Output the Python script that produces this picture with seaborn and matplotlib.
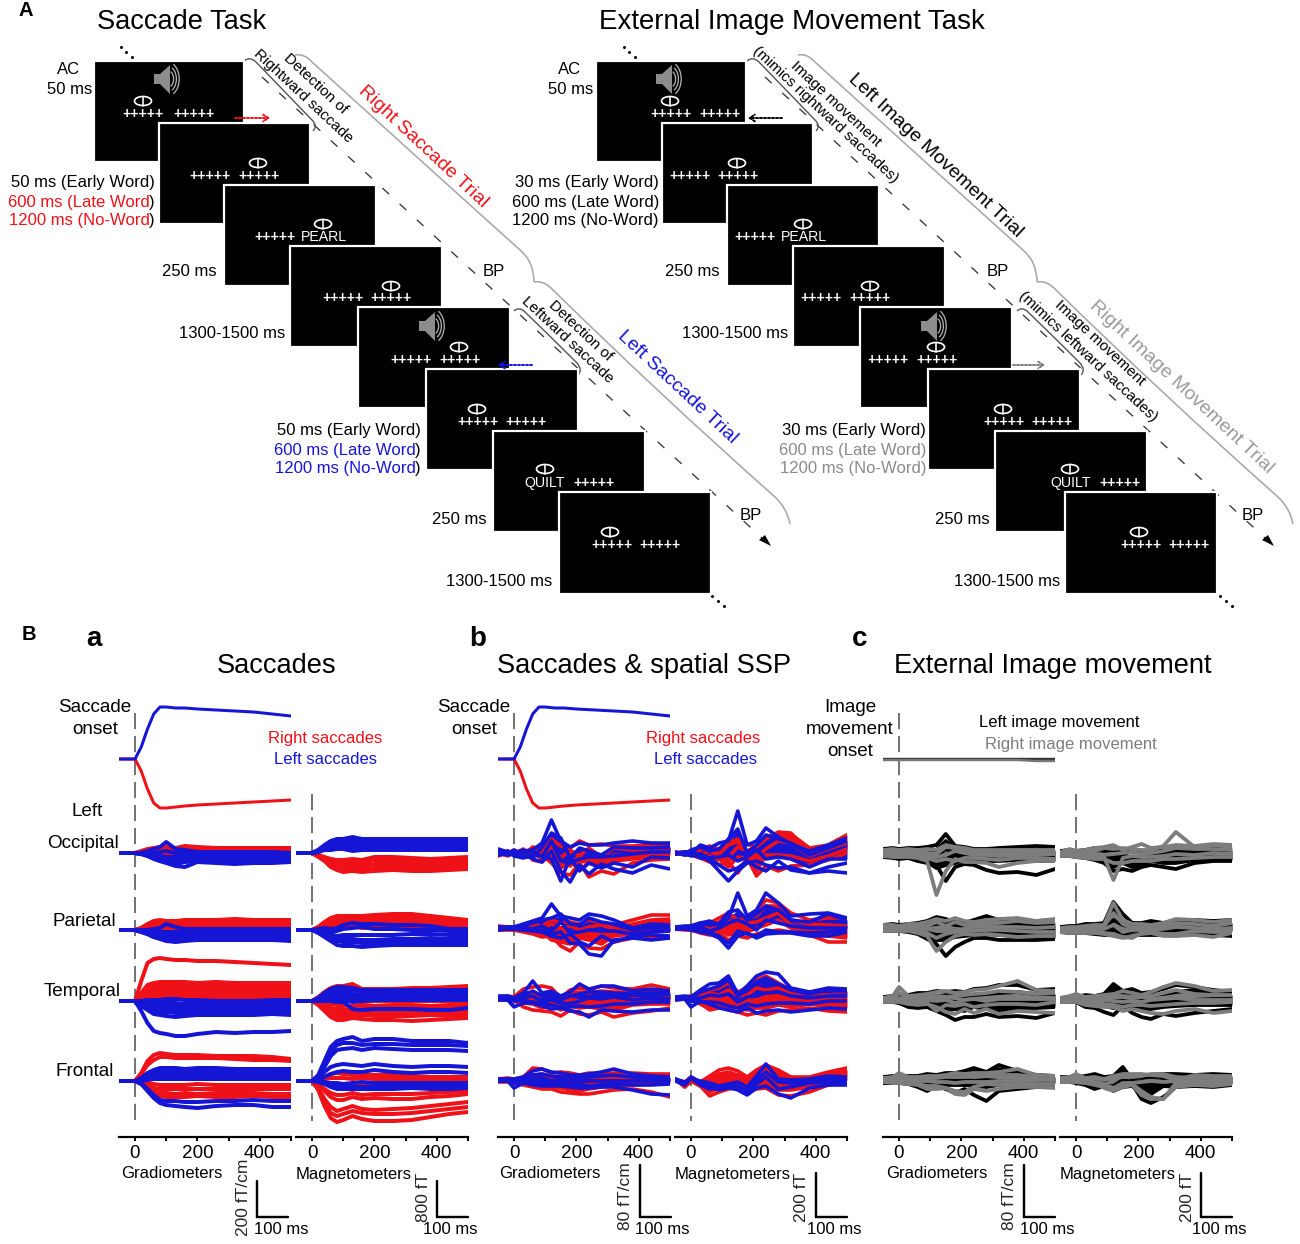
import numpy as np
import pandas as pd
import seaborn as sns
import matplotlib
matplotlib.use("Agg")
import matplotlib.pyplot as plt
from matplotlib.patches import Rectangle, Ellipse, Polygon, Arc
from matplotlib.path import Path
from matplotlib.patches import PathPatch

# ---------- time grids (ms) ----------
T_A = [-50,0,20,40,60,80,100,130,160,200,260,320,380,440,500]
T_B = [-50,-20,0,30,60,90,120,150,180,210,240,280,320,380,440,500]

# ---------- eye traces (amplitude, px-scale units, up positive) ----------
EYE_LEFT  = [0,0,12,30,45,52,52,51,51,50,49,48,47,45,43]
EYE_RIGHT = [0,0,-12,-30,-44,-49,-49,-48,-47,-46,-45,-44,-43,-42,-41]
EYE_IMG_L = [0,0,0,0,0,0,0,0,0,0,0,0,0,0,0]
EYE_IMG_R = [0,0,0,0,0,0,0,0,0,0,0,0,0,-1,-1]

# ---------- a: Saccades ----------
A_GO_R = [[0,0,2,4,5,6,6,5,7,6,5,5,5,5,5],[0,0,1,2,3,4,4,3,4,3,3,3,3,3,3],[0,0,1,1,2,2,1,1,2,1,1,0,1,0,1],[0,0,0,0,0,0,-1,-1,-1,-1,-1,-1,0,-1,-1],[0,0,0,-1,-1,-2,-3,-3,-2,-3,-3,-3,-3,-3,-3]]
A_GO_L = [[0,0,0,2,4,6,11,4,3,1,1,1,1,1,0],[0,0,0,0,0,1,2,0,0,-1,-2,-2,-2,-1,-2],[0,0,-1,-1,-2,-3,-4,-4,-4,-4,-4,-4,-5,-4,-4],[0,0,-1,-2,-3,-5,-7,-8,-6,-6,-6,-6,-7,-7,-7],[0,0,-1,-3,-5,-8,-9,-11,-9,-8,-8,-9,-8,-9,-9],[0,0,-1,-3,-6,-8,-10,-13,-14,-9,-10,-11,-10,-10,-9]]
A_MO_R = [[0,0,-2,-4,-6,-7,-7,-6,-7,-4,-4,-5,-6,-5,-4],[0,0,-2,-5,-8,-10,-10,-9,-10,-7,-7,-8,-9,-8,-7],[0,0,-3,-6,-10,-12,-13,-13,-13,-11,-11,-11,-12,-11,-10],[0,0,-3,-7,-12,-15,-16,-16,-16,-15,-14,-15,-15,-14,-13],[0,0,-4,-8,-14,-17,-19,-18,-19,-18,-17,-18,-18,-17,-16]]
A_MO_L = [[0,0,3,8,12,14,14,16,14,14,14,14,14,14,14],[0,0,3,7,10,12,12,14,12,12,12,12,12,12,12],[0,0,2,6,9,10,10,11,10,10,10,10,10,10,10],[0,0,2,5,7,8,8,7,7,8,8,8,8,8,8],[0,0,1,4,5,6,6,5,5,5,6,6,6,6,5],[0,0,1,3,3,4,4,2,3,3,3,3,3,3,3]]
A_GP_R = [[0,0,2,6,9,10,9,9,10,10,10,11,10,10,10],[0,0,2,5,7,8,8,7,8,8,8,9,8,8,8],[0,0,1,4,5,6,6,5,6,6,6,6,6,6,6],[0,0,1,2,3,4,4,3,4,4,4,4,4,4,4],[0,0,0,1,1,2,2,2,2,2,2,2,2,1,2]]
A_GP_L = [[0,0,0,0,1,2,6,3,1,1,1,1,1,1,1],[0,0,-1,-1,-2,-2,-2,-2,-2,-2,-2,-1,-2,-1,-2],[0,0,-1,-2,-3,-4,-4,-4,-5,-5,-4,-4,-4,-4,-4],[0,0,-1,-3,-5,-6,-7,-7,-7,-6,-7,-6,-6,-6,-7],[0,0,-2,-4,-7,-8,-9,-10,-9,-9,-9,-8,-8,-9,-9],[0,0,-2,-4,-7,-9,-11,-12,-11,-10,-10,-10,-10,-10,-11]]
A_MP_R = [[0,0,3,8,12,14,14,14,14,15,16,16,14,12,10],[0,0,3,7,10,12,12,12,12,13,13,14,12,10,9],[0,0,2,5,8,10,10,10,10,11,11,11,10,8,7],[0,0,2,4,6,8,8,8,8,9,9,9,8,6,5],[0,0,1,3,4,6,6,6,6,6,6,6,5,4,4],[0,0,0,1,2,0,2,4,2,3,2,2,1,1,1]]
A_MP_L = [[0,0,1,2,1,2,5,7,6,6,5,5,4,1,1],[0,0,0,0,-1,-1,1,2,3,1,1,0,0,-1,-1],[0,0,-1,-2,-4,-6,-5,-5,-5,-5,-5,-4,-4,-5,-5],[0,0,-1,-4,-7,-9,-9,-9,-10,-10,-9,-9,-8,-9,-8],[0,0,-2,-5,-9,-11,-12,-12,-13,-13,-12,-12,-12,-12,-12],[0,0,-3,-7,-11,-15,-16,-16,-17,-16,-15,-15,-15,-15,-15]]
A_GT_R = [[0,0,20,38,42,43,42,41,41,40,40,39,38,37,36],[0,0,8,16,18,19,19,19,19,18,19,18,18,18,18],[0,0,7,13,15,16,16,16,16,15,15,15,15,15,15],[0,0,6,10,12,13,13,13,13,12,12,12,12,12,12],[0,0,4,8,9,10,10,10,10,9,9,9,9,9,9],[0,0,3,6,7,7,7,7,7,6,6,6,6,6,6],[0,0,2,3,4,4,4,4,4,3,3,3,3,3,3]]
A_GT_L = [[0,0,0,1,1,1,2,2,1,1,0,0,0,1,1],[0,0,-1,-2,-2,-2,-2,-2,-3,-2,-2,-2,-2,-1,-2],[0,0,-2,-3,-5,-5,-5,-5,-6,-5,-5,-5,-4,-4,-5],[0,0,-3,-5,-7,-8,-8,-9,-9,-8,-8,-8,-7,-7,-8],[0,0,-4,-7,-10,-11,-11,-12,-12,-11,-11,-11,-10,-10,-11],[0,0,-5,-9,-13,-14,-15,-16,-15,-14,-14,-14,-14,-13,-14],[0,0,-10,-22,-30,-32,-33,-35,-35,-33,-31,-32,-31,-31,-30]]
A_MT_R = [[0,0,4,9,13,15,15,17,12,12,12,13,13,14,15],[0,0,1,1,1,1,0,0,-1,0,0,0,0,-1,-1],[0,0,-1,-2,-3,-4,-4,-5,-4,-5,-4,-4,-5,-5,-4],[0,0,-1,-4,-7,-8,-8,-9,-8,-8,-8,-8,-8,-8,-8],[0,0,-2,-5,-10,-12,-12,-12,-11,-12,-11,-12,-11,-11,-11],[0,0,-3,-7,-13,-15,-15,-15,-14,-15,-15,-15,-14,-15,-14],[0,0,-4,-10,-16,-19,-19,-17,-18,-19,-19,-20,-19,-18,-17]]
A_MT_L = [[0,0,3,8,12,14,14,13,11,11,11,11,11,11,11],[0,0,2,6,9,10,10,11,9,9,9,10,9,10,10],[0,0,2,4,6,7,7,7,6,7,7,7,7,7,7],[0,0,1,2,3,4,4,3,3,4,4,4,4,4,4],[0,0,0,1,1,1,1,-1,0,1,1,1,1,1,1],[0,0,0,0,0,-1,-1,-8,-9,-8,-8,-8,-9,-9,-7]]
A_GF_R = [[0,0,8,20,26,28,27,26,26,26,25,25,25,24,22],[0,0,7,16,21,24,24,23,23,23,23,22,21,21,20],[0,0,3,7,9,10,10,9,10,9,9,9,9,9,9],[0,0,1,2,3,4,4,4,3,3,3,3,3,3,3],[0,0,-1,-2,-3,-4,-4,-4,-4,-3,-4,-4,-4,-4,-4],[0,0,-2,-4,-7,-8,-8,-8,-8,-8,-8,-8,-8,-8,-8],[0,0,-3,-6,-10,-12,-12,-13,-12,-13,-12,-12,-12,-13,-13],[0,0,-3,-8,-13,-15,-16,-16,-16,-15,-16,-16,-15,-16,-17]]
A_GF_L = [[0,0,3,8,11,13,13,13,12,13,13,12,12,12,12],[0,0,2,6,8,9,9,9,9,10,9,9,9,9,9],[0,0,1,3,5,5,5,5,6,6,6,5,6,5,5],[0,0,0,1,2,2,2,2,2,2,2,2,2,2,2],[0,0,-2,-8,-14,-19,-20,-20,-21,-21,-20,-20,-19,-20,-20],[0,0,-3,-10,-17,-22,-24,-25,-26,-27,-25,-24,-24,-26,-26]]
A_MF_R = [[0,0,1,4,7,8,7,6,6,6,6,5,4,4,4],[0,0,1,2,3,3,3,2,3,2,2,2,2,2,2],[0,0,-1,-2,-4,-4,-4,-3,-4,-3,-3,-3,-2,-2,-2],[0,0,-3,-8,-12,-14,-14,-12,-14,-13,-13,-13,-12,-11,-10],[0,0,-4,-10,-16,-19,-19,-16,-18,-17,-18,-18,-16,-15,-13],[0,0,-7,-18,-26,-30,-28,-25,-28,-29,-28,-27,-25,-23,-21],[0,0,-8,-22,-32,-35,-33,-30,-32,-33,-33,-32,-30,-28,-26],[0,0,-9,-25,-37,-41,-39,-35,-38,-40,-40,-39,-36,-33,-31]]
A_MF_L = [[0,0,6,20,34,40,42,44,40,42,42,40,40,40,38],[0,0,5,17,30,36,38,38,36,37,37,36,36,36,35],[0,0,4,14,25,31,32,33,31,33,32,31,31,31,30],[0,0,3,9,14,16,17,16,15,17,15,14,15,15,14],[0,0,1,4,7,9,10,9,9,11,9,8,9,9,8],[0,0,0,-1,-2,-2,-3,-2,-1,-2,-2,-2,-2,-2,-2],[0,0,0,-2,-4,-5,-6,-6,-6,-6,-6,-5,-6,-5,-5],[0,0,-1,-3,-6,-8,-8,-8,-8,-8,-8,-7,-8,-8,-7]]

# ---------- b: Saccades & spatial SSP ----------
B_GO_R = [[3,0,3,-2,6,4,14,7,5,12,8,9,7,7,8,9],[-3,2,-2,3,1,-6,7,-5,3,-3,5,-4,5,3,4,6],[0,-3,1,-4,-3,3,-5,-10,-13,-2,-9,-5,-2,-3,1,2],[-2,1,-1,4,-7,-9,1,-15,-8,-17,-10,-14,-8,-6,-4,-2],[2,-1,2,-2,4,-2,-10,-20,-22,-10,-24,-18,-21,-10,-7,-6]]
B_GO_L = [[4,1,1,2,3,10,33,12,6,10,8,8,10,12,10,10],[-2,-1,3,-3,-5,6,20,15,-5,5,2,-2,6,5,5,6],[1,-2,-1,1,2,-4,12,-8,-10,-6,-4,-4,-3,-1,1,1],[-1,2,-3,-5,-2,-3,-6,-28,-4,-18,-10,-15,-10,-14,-4,-5],[0,-1,0,3,-6,-9,2,-18,-29,-12,-21,-11,-16,-20,-12,-16]]
B_MO_R = [[0,1,-1,3,6,-1,8,11,2,7,16,20,19,5,8,18],[0,1,-1,3,7,4,10,14,9,6,14,21,20,-1,8,18],[-1,-1,1,-2,2,-3,-4,6,2,-5,4,12,10,-3,4,10],[1,-2,-2,-5,-9,-6,-14,-4,-5,-18,-2,-2,-3,-8,-3,4],[-1,0,-1,-4,-3,-12,-9,-20,-5,-23,-13,-18,-13,-12,-7,0]]
B_MO_L = [[0,1,-1,8,5,10,12,42,8,12,25,16,9,2,8,15],[1,-1,3,6,2,4,14,24,0,8,18,14,10,-2,5,12],[-1,0,-3,-1,-5,-4,-2,-8,-4,3,-6,-4,-6,-14,-6,-6],[0,-2,-1,-5,-6,-12,-18,-15,-8,-14,-18,-8,-17,-20,-14,-10],[-1,1,1,-2,-8,-18,-28,-18,-10,-8,-12,-15,-14,-20,-18,-20]]
B_GP_R = [[2,1,0,3,4,2,8,5,6,4,8,5,3,8,13,13],[1,0,1,1,1,-2,4,0,2,-2,1,3,-1,4,8,9],[-1,-1,0,-2,-3,-7,-3,-6,-8,-5,-6,-4,-4,-2,1,3],[-2,-1,-2,-3,-4,-4,-12,-14,-16,-10,-12,-16,-8,-6,-4,-3],[-2,-2,-2,-4,-6,-9,-8,-18,-23,-14,-20,-21,-14,-10,-10,-9]]
B_GP_L = [[1,1,1,4,7,10,24,12,10,8,14,12,8,0,4,3],[0,1,1,3,5,8,10,14,4,3,10,6,4,-2,1,0],[-1,0,0,1,-1,2,-3,6,-5,-4,-2,-3,-3,-6,-4,-3],[-1,-1,-1,0,-3,-4,-8,-10,-6,-14,-18,-8,-14,-8,-7,-8],[-2,-1,-1,-2,-3,-2,-6,-4,-15,-16,-26,-28,-12,-10,-12,-10]]
B_MP_R = [[0,1,2,5,5,10,15,8,10,17,28,25,15,8,10,10],[1,1,0,1,2,6,8,4,10,12,22,22,8,4,3,2],[0,-1,-1,0,-2,2,4,-2,5,6,10,15,3,0,-2,-3],[-1,-1,-2,-3,-5,-2,-7,-5,-4,0,3,8,0,-4,-8,-10],[-1,-2,-2,-5,-7,-5,-12,-8,-10,-6,-4,-2,-4,-7,-14,-14]]
B_MP_L = [[1,2,2,5,7,3,10,35,12,18,35,25,12,14,15,10],[0,1,1,4,3,4,16,18,8,14,22,18,8,6,14,8],[-1,0,-1,1,-3,0,5,8,4,-2,8,5,2,0,0,0],[0,-1,-1,-3,-5,-8,-15,-3,-6,-8,-2,-4,-4,-5,-4,-2],[-1,-1,-2,-4,-6,-10,-20,-8,-5,-10,-6,-5,-5,-8,-8,-4]]
B_GT_R = [[1,2,1,9,11,12,10,0,8,10,8,12,10,9,13,9],[0,1,0,6,4,2,7,-2,5,6,5,7,6,6,7,6],[-1,-1,-2,-2,-3,-4,-3,-6,-1,-3,-1,-2,-3,-1,-1,0],[-1,-2,-2,-5,-6,-10,-7,-12,-8,-10,-9,-11,-12,-7,-6,-6],[-2,-2,-2,-9,-12,-13,-14,-18,-12,-16,-17,-14,-19,-15,-13,-10]]
B_GT_L = [[2,2,0,5,17,5,7,2,6,14,9,12,12,7,9,7],[1,0,0,3,7,2,4,-2,2,4,6,6,5,4,5,4],[-1,1,-2,1,2,-4,-2,-5,-6,-3,0,-1,1,-2,0,-1],[-1,-2,-3,-2,-4,-6,-7,-9,-9,-8,-9,-8,-6,-6,-4,-4],[-2,-2,-9,-5,-5,-8,-11,-10,-13,-14,-19,-12,-13,-14,-12,-12]]
B_MT_R = [[0,1,2,5,8,10,15,6,10,18,22,15,8,6,8,6],[0,0,1,2,5,3,8,2,3,10,8,10,5,4,3,2],[-1,-1,-1,-3,-8,-4,-3,-6,-2,-4,-2,-3,-3,-2,-3,-3],[-1,-1,-2,-5,-12,-10,-9,-10,-12,-10,-10,-7,-9,-6,-9,-10],[-2,-1,-2,-6,-11,-8,-12,-14,-17,-15,-17,-13,-12,-10,-13,-14]]
B_MT_L = [[1,2,1,8,14,15,22,4,12,22,26,24,10,6,10,9],[0,1,0,6,9,12,18,2,8,16,20,14,8,4,8,7],[-1,0,-1,0,3,2,4,-4,1,2,5,6,2,0,2,2],[-1,-1,-3,-4,-4,-5,-8,-10,-6,-8,-6,-5,-5,-6,-3,-3],[-2,-1,-9,-3,-6,-10,-12,-14,-10,-15,-13,-12,-14,-12,-10,-11]]
B_GF_R = [[1,2,1,3,12,11,7,8,7,5,7,6,7,7,6,6],[1,1,0,2,5,6,3,4,2,3,3,2,3,2,4,3],[-1,0,-1,-1,-1,-2,-2,-3,-4,-5,-4,-3,-2,-1,0,-1],[-1,-1,-2,-3,-5,-6,-6,-8,-10,-11,-9,-7,-6,-5,-4,-3],[-2,-2,-3,-5,-7,-9,-9,-12,-13,-14,-14,-12,-10,-9,-12,-17]]
B_GF_L = [[1,1,1,3,9,11,8,7,5,5,6,8,11,6,4,3],[0,1,0,2,5,6,4,3,2,3,3,4,5,3,2,2],[-1,0,-1,0,0,-1,-1,-1,-1,-2,-1,-1,-1,-1,-1,-1],[-1,-1,-3,-2,-3,-3,-4,-4,-5,-5,-6,-5,-4,-5,-5,-4],[-1,-1,-8,-3,-5,-6,-6,-6,-7,-8,-8,-7,-7,-10,-14,-15]]
B_MF_R = [[0,-2,3,-2,4,10,12,9,3,10,15,10,3,3,8,12],[0,-3,2,-4,1,6,8,5,0,8,12,8,1,2,6,10],[1,-4,1,-5,-2,2,4,2,-3,4,8,2,-2,1,3,7],[1,-6,0,-6,-8,-4,-1,-3,-6,0,4,-4,-6,-3,0,3],[1,-7,-1,-6,-12,-8,-5,-6,-9,-5,-3,-10,-10,-7,-3,0],[1,-7,-1,-6,-16,-12,-9,-8,-11,-9,-8,-15,-16,-12,-5,-3]]
B_MF_L = [[1,-2,1,-1,-3,-6,-4,-2,-7,4,16,1,0,1,4,3],[0,-3,3,-2,-6,-8,-6,-6,-11,0,8,-2,-3,-1,1,0],[0,-4,2,-3,-7,-10,-8,-9,-14,-4,3,-9,-7,-3,-2,-3],[-1,-5,2,-5,-9,-8,-7,-10,-15,-8,-6,-14,-18,-8,-5,-5]]

# ---------- c: External image movement (K = left/black, G = right/gray) ----------
C_GO_K = [[4,5,4,5,5,6,8,19,7,6,4,4,5,6,7,6],[2,3,2,3,2,2,3,12,4,2,2,2,2,3,3,3],[0,0,0,0,-1,-2,-3,4,0,-1,0,-1,0,0,0,0],[-2,-2,-2,-2,-4,-5,-10,-6,-5,-4,-3,-4,-3,-3,-3,-4],[-3,-4,-4,-4,-6,-9,-15,-12,-10,-7,-6,-8,-8,-7,-8,-8],[-4,-5,-6,-5,-8,-10,-12,-28,-14,-11,-12,-17,-20,-19,-22,-16]]
C_GO_G = [[3,4,3,4,3,4,3,8,6,5,3,3,3,3,3,3],[1,1,0,1,1,0,-1,6,5,3,1,0,0,1,1,1],[-1,-1,-1,-1,-2,-3,-4,-2,2,0,-2,-2,-3,-2,-2,-1],[-2,-3,-3,-3,-4,-5,-8,-6,-8,-5,-5,-6,-7,-5,-5,-6],[-3,-4,-4,-4,-5,-8,-42,-18,-6,-9,-9,-10,-14,-10,-8,-8]]
C_MO_K = [[2,3,2,3,5,2,3,-1,-5,-2,4,2,2,4,6,7],[1,1,0,1,2,3,6,3,1,0,2,1,1,2,3,3],[-1,-1,-2,-2,-2,-5,-8,-8,-10,-6,-3,-6,-3,-2,-1,-1],[-2,-2,-3,-4,-5,-8,-14,-10,-14,-12,-8,-10,-10,-7,-6,-7],[-3,-3,-4,-5,-7,-10,-18,-16,-18,-14,-12,-14,-16,-10,-8,-8]]
C_MO_G = [[1,4,2,3,5,6,8,3,6,9,5,6,8,7,9,8],[0,2,0,1,2,5,4,5,4,3,3,7,21,6,8,6],[-1,0,-1,-1,-1,-2,-1,0,1,-1,0,2,5,4,4,3],[-2,-2,-3,-3,-3,-4,-27,-5,-3,-4,-4,-3,-1,-2,0,-1],[-3,-3,-4,-5,-6,-6,-10,-10,-8,-8,-8,-6,-6,-5,-4,-4]]
C_GP_K = [[3,4,3,4,5,7,11,9,6,5,8,12,8,6,7,8],[1,2,1,2,1,3,4,5,3,2,4,6,4,3,2,3],[0,0,-1,0,-1,-2,-3,-5,-2,-4,-3,-3,-1,-2,-1,-2],[-2,-2,-2,-2,-4,-7,-12,-12,-9,-8,-7,-6,-7,-8,-8,-10],[-3,-3,-3,-4,-6,-11,-16,-28,-19,-14,-10,-10,-12,-12,-12,-11]]
C_GP_G = [[3,3,2,4,4,6,9,7,10,7,6,8,9,10,7,9],[1,1,0,1,2,2,6,2,6,3,3,5,5,7,5,6],[0,0,-1,0,0,-1,-3,-3,-2,-1,1,1,1,1,0,1],[-2,-2,-2,-2,-3,-5,-10,-6,-4,-3,-3,-2,-2,-3,-4,-4],[-3,-3,-3,-3,-5,-8,-23,-14,-8,-6,-7,-6,-7,-9,-8,-8]]
C_MP_K = [[1,2,2,4,4,5,26,14,5,5,7,5,8,8,7,8],[0,1,1,3,3,3,20,6,3,2,4,3,5,5,4,5],[-2,-1,-1,-1,-1,-1,8,3,1,0,0,0,0,1,1,1],[-3,-3,-3,-3,-4,-4,-2,-6,-3,-3,-3,-2,-4,-3,-3,-3],[-4,-5,-5,-5,-6,-7,-7,-8,-7,-7,-7,-7,-7,-6,-7,-8]]
C_MP_G = [[0,1,1,2,3,3,25,8,4,4,3,5,9,8,6,8],[-1,0,0,1,1,2,15,4,0,1,2,2,5,4,2,5],[-2,-2,-2,-1,-1,-1,3,-4,-2,-2,-1,-1,1,0,-1,0],[-3,-3,-3,-3,-4,-5,-6,-9,-10,-5,-3,-6,-6,-3,-4,-3],[-4,-5,-5,-5,-5,-6,-8,-10,-8,-6,-5,-8,-8,-7,-9,-5]]
C_GT_K = [[2,3,3,4,6,6,8,7,8,7,10,11,14,14,9,10],[1,1,0,2,2,3,3,3,4,3,4,5,6,7,5,5],[-1,-1,-1,-2,-3,-3,-2,-2,-3,-3,-3,-2,-3,-2,-2,-2],[-2,-2,-4,-6,-7,-8,-10,-12,-10,-12,-8,-10,-12,-9,-9,-8],[-3,-3,-4,-8,-9,-8,-12,-16,-21,-18,-18,-15,-18,-17,-19,-14]]
C_GT_G = [[1,3,12,3,4,5,7,8,6,7,9,10,13,18,9,8],[0,1,6,1,2,2,3,2,3,4,5,6,8,7,5,6],[-1,-1,1,-1,0,-1,-2,-1,-4,-1,0,-2,0,0,0,0],[-2,-2,-1,-4,-3,-4,-12,-6,-7,-5,-8,-6,-5,-5,-6,-3],[-3,-3,-3,-5,-6,-5,-8,-13,-15,-10,-14,-10,-15,-12,-13,-14]]
C_MT_K = [[1,2,2,4,3,5,15,8,10,6,7,10,14,12,9,7],[0,1,0,1,1,2,14,7,4,3,4,5,7,9,5,4],[-1,-1,-1,-2,-2,-2,-2,-2,-3,-2,-2,-2,-1,-1,0,0],[-2,-2,-3,-6,-6,-7,-9,-6,-8,-10,-10,-8,-7,-6,-6,-6],[-3,-3,-3,-8,-9,-13,-16,-7,-14,-18,-20,-15,-17,-14,-12,-10]]
C_MT_G = [[1,3,5,2,3,4,5,8,6,4,7,12,16,13,8,9],[0,1,3,0,1,2,3,3,2,2,3,6,9,5,4,4],[-1,-1,0,-2,-2,-1,-2,-3,-2,-3,-1,0,1,-1,-1,-1],[-2,-2,-2,-5,-4,-5,-6,-8,-6,-6,-7,-6,-5,-4,-4,-3],[-3,-3,-3,-6,-7,-8,-8,-12,-10,-12,-14,-15,-12,-10,-14,-12]]
C_GF_K = [[2,3,3,3,3,5,4,6,6,8,11,7,14,8,4,3],[1,1,0,1,1,2,2,3,4,4,8,5,10,5,3,2],[-3,-3,-1,-2,-1,-2,-1,-1,-1,-1,-2,-1,-2,-3,-2,-1],[-4,-4,-3,-4,-5,-8,-6,-6,-6,-6,-7,-8,-6,-5,-5,-4],[-4,-4,-4,-5,-8,-12,-7,-10,-14,-10,-16,-22,-12,-10,-8,-7]]
C_GF_G = [[1,2,6,2,2,3,3,4,6,5,6,6,7,10,4,3],[0,1,3,1,1,1,1,2,2,2,3,3,4,4,2,2],[-1,-1,0,-1,-2,-2,-3,-3,-4,-3,-3,-3,-2,-2,-1,-1],[-3,-3,-3,-3,-5,-7,-7,-9,-12,-13,-8,-5,-6,-5,-5,-5],[-3,-4,-4,-5,-6,-10,-10,-9,-15,-16,-10,-12,-10,-8,-8,-9]]
C_MF_K = [[2,2,2,3,5,2,3,12,-1,3,4,5,5,4,5,4],[1,1,0,1,2,-2,3,8,2,1,2,2,3,3,3,3],[-1,-1,-2,-2,-3,-7,-7,-1,-3,-3,-3,-2,-2,-1,-1,-1],[-2,-3,-3,-5,-8,-5,-12,-8,-7,-15,-15,-7,-8,-5,-5,-5],[-3,-3,-4,-6,-10,-7,-8,-7,-5,-20,-24,-18,-8,-7,-8,-6]]
C_MF_G = [[1,2,5,1,2,0,3,5,5,5,4,3,-1,4,3,3],[0,0,2,0,1,-1,1,2,2,3,5,5,2,1,1,1],[-1,-1,-1,-1,-3,-5,-9,-4,-4,-3,-2,-3,-2,-2,-2,-1],[-2,-3,-3,-4,-6,-8,-11,-7,-5,-12,-18,-20,-4,-5,-4,-3],[-3,-3,-3,-4,-4,-9,-12,-8,-6,-16,-20,-20,-8,-6,-7,-5]]

# ---------- text ----------
REGIONS = ["Occipital", "Parietal", "Temporal", "Frontal"]
TICK_VALUES = [0, 100, 200, 300, 400, 500]
TICK_TEXT = ["0", "", "200", "", "400", ""]

# ---------- styling ----------
W, H = 1300, 1244
RED, BLUE, BLACK, GRAY = "#ee1118", "#1515d6", "#000000", "#7d7d7d"
DASH = "#6e6e6e"

sns.set_theme(style="white", rc={"axes.grid": False})
plt.rcParams["font.family"] = ["Liberation Sans", "DejaVu Sans"]
fig = plt.figure(figsize=(W / 100, H / 100), dpi=100, facecolor="white")

bg = fig.add_axes([0, 0, 1, 1], zorder=0)
bg.set_xlim(0, W); bg.set_ylim(H, 0); bg.axis("off")
PX = 0.72  # points per pixel at dpi 100
DY = 2     # baseline correction for upright text


def txt(x, y, s, size=12, color="black", ha="center", va="center", rot=0, **kw):
    bg.text(x, y + (DY if rot == 0 else 0), s, fontsize=size, color=color, ha=ha, va=va, rotation=rot,
            rotation_mode="anchor", zorder=20, **kw)


# ---------- panel A: schematic ----------
def frame(x0, y0, x1, y1, z):
    bg.add_patch(Rectangle((x0, y0), x1 - x0, y1 - y0, fc="black", ec="white", lw=2.2 * PX, zorder=z))


def eye(cx, cy, z):
    bg.add_patch(Ellipse((cx, cy), 17, 9, fc="none", ec="white", lw=1.7 * PX, zorder=z))
    bg.plot([cx, cx], [cy - 4.5, cy + 4.5], color="white", lw=1.6 * PX, zorder=z)


def speaker(cx, cy, z):
    bg.add_patch(Polygon([(cx - 15, cy - 5), (cx - 9, cy - 5), (cx + 1, cy - 14), (cx + 1, cy + 15),
                          (cx - 9, cy + 5), (cx - 15, cy + 5)], fc="#8c8c8c", ec="none", zorder=z))
    for r in (8, 12, 16):
        bg.add_patch(Arc((cx - 1, cy), 2 * r * 0.7, 2 * r * 1.05, theta1=-70, theta2=70,
                         ec="#b0b0b0", lw=1.3 * PX, zorder=z))


PLUS = "+++++"
def screen(i, rect, left, right, ey, ex, yt):
    z = 2 + i * 0.1
    frame(*rect, z)
    eye(ex, ey, z + 0.01)
    for (cx, s) in (left, right):
        size = 10 if s == PLUS else 10.2
        bg.text(cx, yt + DY, s, color="white", fontsize=size, ha="center", va="center",
                fontweight="bold" if s == PLUS else "normal", zorder=z + 0.01)


SCREENS_L = [
    ((94, 61, 244, 162), (143, PLUS), (194, PLUS), 101, 143, 112),
    ((159, 123, 310, 224), (210, PLUS), (259, PLUS), 163, 258, 174),
    ((224, 185, 376, 286), (275, PLUS), (324, "PEARL"), 224, 323, 235),
    ((290, 246, 442, 347), (343, PLUS), (391, PLUS), 286, 391, 296),
    ((358, 307, 510, 408), (411, PLUS), (460, PLUS), 347, 459, 358),
    ((426, 369, 578, 470), (478, PLUS), (526, PLUS), 409, 477, 420),
    ((493, 431, 645, 532), (545, "QUILT"), (594, PLUS), 469, 545, 481),
    ((559, 492, 711, 594), (612, PLUS), (660, PLUS), 532, 610, 543),
]
SCREENS_R = [
    ((596, 61, 746, 162), (671, PLUS), (720, PLUS), 101, 670, 112),
    ((662, 123, 813, 224), (690, PLUS), (738, PLUS), 163, 737, 174),
    ((727, 185, 879, 286), (755, PLUS), (804, "PEARL"), 224, 803, 235),
    ((793, 246, 945, 347), (821, PLUS), (870, PLUS), 286, 870, 296),
    ((860, 307, 1012, 408), (888, PLUS), (937, PLUS), 347, 936, 358),
    ((928, 369, 1080, 470), (1004, PLUS), (1052, PLUS), 409, 1003, 420),
    ((995, 431, 1147, 532), (1071, "QUILT"), (1120, PLUS), 469, 1070, 481),
    ((1065, 492, 1217, 594), (1141, PLUS), (1189, PLUS), 532, 1139, 543),
]
for sc in (SCREENS_L, SCREENS_R):
    for i, s in enumerate(sc):
        screen(i, *s)
speaker(169, 79, 2.05); speaker(671, 79, 2.05)
speaker(434, 326, 2.45); speaker(936, 326, 2.45)

# time-line dashes and arrowheads
for dx in (0, 503):
    bg.plot([262 + dx, 762 + dx], [77, 538], color="#333333", lw=1.3 * PX, dashes=(7, 11), zorder=1)
    bg.add_patch(Polygon([(759 + dx, 540), (771 + dx, 546), (765 + dx, 535)], fc="black", ec="none", zorder=1))
    for (x, y) in ((120, 47), (125, 52), (131, 57)):
        bg.plot([x + dx + 1], [y], "o", ms=3 * PX, mew=0, color="black", zorder=1)
DOTS_END = [(712, 596), (718, 601), (724, 606), (1220, 596), (1226, 601), (1232, 606)]
for (x, y) in DOTS_END:
    bg.plot([x], [y], "o", ms=3 * PX, mew=0, color="black", zorder=1)


def bracket(pts, dx, color, lw):
    pts = [(x + dx, y) for (x, y) in pts]
    codes = [Path.MOVETO] + [Path.CURVE3, Path.CURVE3] * ((len(pts) - 1) // 2)
    bg.add_patch(PathPatch(Path(pts, codes), fc="none", ec=color, lw=lw * PX, zorder=1))


for dx in (0, 503):
    big = "#a8a8a8"
    bracket([(295, 55), (304, 53), (312, 62), (420, 160), (520, 250), (534, 262), (534, 282)], dx, big, 1.6)
    bracket([(534, 282), (544, 280), (553, 290), (660, 395), (775, 497), (787, 508), (790, 524)], dx, big, 1.6)
    bracket([(244, 61), (250, 56), (256, 62), (285, 92), (312, 120), (318, 126), (313, 131)], dx, "#555555", 1.4)
    bracket([(514, 311), (519, 306), (525, 312), (552, 338), (577, 363), (583, 370), (578, 375)], dx, "#555555", 1.4)

# rotated text
ROT = -43
txt(315, 84, "Detection of", 11, rot=ROT)
txt(303, 96, "Rightward saccade", 11, rot=ROT)
txt(423, 147, "Right Saccade Trial", 14, RED, rot=ROT)
txt(580, 331, "Detection of", 11, rot=ROT)
txt(568, 340, "Leftward saccade", 11, rot=ROT)
txt(677, 387, "Left Saccade Trial", 14, BLUE, rot=ROT)
txt(836, 104, "Image movement", 11, rot=ROT)
txt(825, 115, "(mimics rightward saccades)", 11, rot=ROT)
txt(935, 156, "Left Image Movement Trial", 14, rot=ROT)
txt(1100, 343, "Image movement", 11, rot=ROT)
txt(1088, 357, "(mimics leftward saccades)", 11, rot=ROT)
txt(1181, 387, "Right Image Movement Trial", 14, "#9a9a9a", rot=ROT)

# timing labels
txt(69, 68, "AC"); txt(92, 87, "50 ms", ha="right")
txt(570, 68, "AC"); txt(593, 87, "50 ms", ha="right")
txt(155, 181, "50 ms (Early Word)", ha="right")
txt(150, 200, "600 ms (Late Word", color=RED, ha="right"); txt(155, 200, ")", ha="right")
txt(150, 218, "1200 ms (No-Word", color=RED, ha="right"); txt(155, 218, ")", ha="right")
txt(421, 429, "50 ms (Early Word)", ha="right")
txt(416, 448, "600 ms (Late Word", color=BLUE, ha="right"); txt(421, 448, ")", ha="right")
txt(416, 466, "1200 ms (No-Word", color=BLUE, ha="right"); txt(421, 466, ")", ha="right")
txt(659, 181, "30 ms (Early Word)", ha="right")
txt(659, 200, "600 ms (Late Word)", ha="right")
txt(659, 218, "1200 ms (No-Word)", ha="right")
txt(926, 429, "30 ms (Early Word)", ha="right")
txt(926, 448, "600 ms (Late Word)", color="#8a8a8a", ha="right")
txt(926, 466, "1200 ms (No-Word)", color="#8a8a8a", ha="right")
for (x, y, s) in [(217, 270, "250 ms"), (285, 332, "1300-1500 ms"), (487, 517, "250 ms"),
                  (552, 579, "1300-1500 ms"), (720, 270, "250 ms"), (788, 332, "1300-1500 ms"),
                  (990, 517, "250 ms"), (1060, 579, "1300-1500 ms")]:
    txt(x, y, s, ha="right")
for (x, y) in [(494, 270), (751, 513), (998, 269), (1253, 513)]:
    txt(x, y, "BP")

# dotted arrows
for (x0, x1, y, c) in [(235, 270, 118, RED), (782, 748, 118, BLACK), (532, 498, 365, BLUE), (1013, 1045, 365, GRAY)]:
    bg.annotate("", xy=(x1, y), xytext=(x0, y), zorder=10,
                arrowprops=dict(arrowstyle="->,head_length=0.3,head_width=0.2", color=c, lw=2 * PX,
                                linestyle=(0, (1, 1)), shrinkA=0, shrinkB=0))

txt(182, 20, "Saccade Task", 19.6)
txt(792, 20, "External Image Movement Task", 19.9)
txt(26, 8, "A", 14.5, fontweight="bold")
txt(29, 632, "B", 14.5, fontweight="bold")
txt(94, 637, "a", 20, fontweight="bold")
txt(478, 637, "b", 20, fontweight="bold")
txt(860, 637, "c", 20, fontweight="bold")
txt(277, 664, "Saccades", 19.6)
txt(644, 664, "Saccades & spatial SSP", 19.6)
txt(1053, 664, "External Image movement", 19.6)


# ---------- panel B: sensors ----------
def panel_axes(x_zero):
    left = x_zero - 50 * 0.312
    width = 550 * 0.312
    ax = fig.add_axes([left / W, 1 - 1137 / H, width / W, (1137 - 690) / H], zorder=5)
    ax.patch.set_alpha(0)
    ax.set_xlim(-50, 500)
    ax.set_ylim(1137, 690)
    sns.despine(ax=ax, left=True, top=True, right=True)
    ax.spines["bottom"].set_linewidth(2.2 * PX)
    ax.spines["bottom"].set_color("black")
    ax.set_yticks([])
    ax.set_xticks(TICK_VALUES)
    ax.set_xticklabels(TICK_TEXT, fontsize=13.6)
    ax.tick_params(axis="x", bottom=True, direction="out", length=4 * PX, width=2 * PX, color="black",
                   labelcolor="black", pad=3)
    ax.set_xlabel(""); ax.set_ylabel("")
    return ax


def draw(ax, t, traces, base, color, lw=3.0):
    df = pd.DataFrame({
        "t": np.tile(t, len(traces)),
        "y": base - np.asarray(traces, float).ravel(),
        "u": np.repeat(np.arange(len(traces)), len(t)),
    })
    sns.lineplot(data=df, x="t", y="y", units="u", estimator=None, sort=False, color=color,
                 lw=lw * PX, ax=ax, legend=False, solid_joinstyle="round")
    ax.set_xlabel(""); ax.set_ylabel("")


def band(ax, t, traces, base, color, lo, hi):
    s = np.sort(np.asarray(traces, float), axis=0)
    ax.fill_between(t, base - s[lo], base - s[hi], color=color, lw=0, zorder=1.5)


G = globals()
COLS = [
    ("A", 135, 312, T_A, [853, 930, 1001, 1081], ("R", RED), ("L", BLUE), 4.0),
    ("B", 514, 691, T_B, [853, 928, 998, 1080], ("R", RED), ("L", BLUE), 3.6),
    ("C", 899, 1076, T_B, [853, 928, 999, 1079], ("K", BLACK), ("G", GRAY), 3.8),
]
CODE = ["O", "P", "T", "F"]
for prefix, xg, xm, t, bases, first, second, lw in COLS:
    for s, x0 in (("G", xg), ("M", xm)):
        ax = panel_axes(x0)
        ax.plot([0, 0], [713 if s == "G" else 794, 1121], color=DASH, lw=1.9 * PX, dashes=(8.5, 3.6), zorder=1)
        for code, base in zip(CODE, bases):
            a = G[f"{prefix}_{s}{code}_{first[0]}"]
            b = G[f"{prefix}_{s}{code}_{second[0]}"]
            if prefix != "A":
                band(ax, t, a, base, first[1], 1, -2)
                band(ax, t, b, base, second[1], 2, -2)
            draw(ax, t, a, base, first[1], lw)
            draw(ax, t, b, base, second[1], lw)
        if s == "G":
            if prefix in "AB":
                draw(ax, T_A, [EYE_RIGHT], 759, RED, 3.0)
                draw(ax, T_A, [EYE_LEFT], 759, BLUE, 3.0)
            else:
                draw(ax, T_A, [EYE_IMG_L], 759, "#333333", 2.4)
                draw(ax, T_A, [EYE_IMG_R], 760, "#777777", 2.4)

# region and onset labels
for (x, y, s) in zip([83, 84, 82, 85], [842, 919, 989, 1070], REGIONS):
    txt(x, y, s, 13.6)
txt(95, 706, "Saccade", 13.6); txt(95, 728, "onset", 13.6); txt(87, 810, "Left", 13.6)
txt(474, 706, "Saccade", 13.6); txt(474, 728, "onset", 13.6)
txt(850, 706, "Image", 13.6); txt(850, 728, "movement", 13.6); txt(850, 749, "onset", 13.6)
txt(325, 736, "Right saccades", 12, RED); txt(326, 758, "Left saccades", 12, BLUE)
txt(703, 736, "Right saccades", 12, RED); txt(705, 758, "Left saccades", 12, BLUE)
txt(1059, 721, "Left image movement", 12); txt(1071, 743, "Right image movement", 12, GRAY)
for x0, label in [(121, "Gradiometers"), (296, "Magnetometers"), (499, "Gradiometers"), (675, "Magnetometers"),
                  (886, "Gradiometers"), (1060, "Magnetometers")]:
    txt(x0, 1172, label, 12, ha="left")

# scale bars
BARS = [(257, 1181, "200 fT/cm", 243, 254), (437, 1181, "800 fT", 423, 423),
        (640, 1165, "80 fT/cm", 626, 635), (816, 1173, "200 fT", 802, 807),
        (1024, 1165, "80 fT/cm", 1010, 1020), (1201, 1173, "200 fT", 1187, 1192)]
for (x, ytop, lab, xt, xms) in BARS:
    bg.plot([x, x, x + 31], [ytop, 1217, 1217], color="black", lw=2.4 * PX, solid_joinstyle="miter", zorder=6)
    bg.text(xt, 1236 if "cm" in lab and lab.startswith("200") else 1230 if "cm" in lab else 1222, lab,
            fontsize=12.5, rotation=90, ha="center", va="bottom", zorder=20)
    txt(xms, 1227, "100 ms", 12, ha="left")

fig.savefig("out.png", dpi=100, facecolor="white")
